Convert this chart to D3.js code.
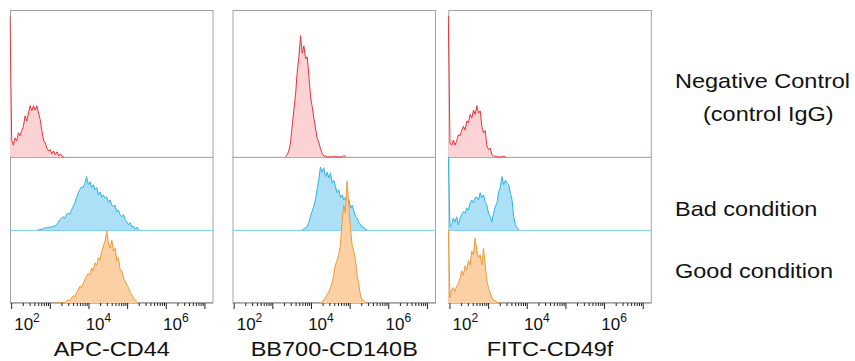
<!DOCTYPE html>
<html>
<head>
<meta charset="utf-8">
<script src="https://cdn.jsdelivr.net/npm/d3@7"></script>
<style>
  body { margin: 0; background: #fff; }
  text { font-family: "Liberation Sans", Arial, sans-serif; fill: #111; }
</style>
</head>
<body>
<div id="chart"></div>
<script>
// --- data ---
const markers = ['APC-CD44', 'BB700-CD140B', 'FITC-CD49f'];
const conditions = ['Negative Control', 'Bad condition', 'Good condition'];
const tickExponents = [2, 4, 6];
const binStep = 0.0434; // decades per histogram bin

// first bin (log10) for [negative, bad, good] of each marker
const apcStart = [1.97, 2.693, 3.128];
const apcNeg = [192, 23, 16, 26, 22, 33, 29, 36, 42, 56, 49, 60, 70, 63, 70, 64, 70, 60, 51, 36, 23, 19, 12, 8, 10, 4, 8, 3, 7, 1, 4, 1, 0];
const apcBad = [1, 0, 1, 1, 3, 3, 3, 4, 4, 5, 5, 7, 10, 14, 16, 18, 16, 21, 23, 21, 27, 32, 37, 44, 51, 55, 59, 58, 64, 73, 62, 66, 58, 62, 55, 58, 48, 52, 45, 48, 44, 45, 38, 41, 34, 32, 34, 25, 27, 21, 18, 21, 14, 11, 7, 10, 4, 5, 1, 4, 0];
const apcGood = [1, 0, 0, 1, 0, 0, 0, 3, 4, 3, 7, 10, 8, 14, 18, 23, 21, 27, 32, 37, 41, 38, 48, 44, 55, 51, 62, 58, 71, 78, 85, 99, 82, 75, 86, 71, 75, 58, 62, 45, 44, 34, 30, 25, 21, 14, 11, 7, 4, 1, 0];

const bbStart = [3.34, 3.767, 4.24];
const bbNeg = [0, 3, 8, 19, 42, 64, 85, 116, 137, 166, 142, 152, 134, 137, 110, 82, 68, 52, 38, 25, 19, 10, 4, 1, 1, 0, 0, 0, 0, 1, 0, 0, 0, 0, 0, 2, 0];
const bbBad = [0, 1, 3, 4, 10, 18, 25, 32, 41, 55, 68, 86, 79, 85, 73, 79, 71, 78, 64, 68, 59, 51, 55, 44, 48, 41, 45, 38, 41, 30, 34, 25, 18, 16, 10, 7, 4, 3, 1, 0];
const bbGood = [0, 1, 4, 7, 11, 14, 21, 27, 38, 52, 58, 66, 79, 110, 134, 123, 167, 134, 103, 79, 71, 58, 38, 25, 11, 4, 3, 1, 0];

const fitcStart = [1.97, 1.97, 1.97];
const fitcNeg = [193, 19, 16, 23, 16, 22, 30, 29, 36, 42, 37, 49, 47, 58, 53, 64, 58, 70, 60, 63, 42, 33, 36, 15, 10, 12, 3, 1, 1, 0, 0, 0, 0, 1, 0];
const fitcBad = [100, 4, 7, 16, 11, 18, 7, 16, 21, 25, 23, 30, 27, 37, 41, 37, 44, 45, 41, 51, 44, 48, 38, 34, 23, 18, 11, 23, 32, 37, 52, 58, 73, 62, 68, 64, 62, 51, 41, 18, 7, 3, 0];
const fitcGood = [100, 7, 18, 21, 16, 23, 27, 34, 44, 38, 51, 45, 58, 52, 71, 66, 89, 71, 62, 66, 52, 75, 52, 30, 21, 14, 7, 4, 3, 1, 0, 1, 0];

const panelData = [
  { title: markers[0], start: apcStart, series: [apcNeg, apcBad, apcGood] },
  { title: markers[1], start: bbStart, series: [bbNeg, bbBad, bbGood] },
  { title: markers[2], start: fitcStart, series: [fitcNeg, fitcBad, fitcGood] },
];

// --- layout ---
const width = 855, height = 361;
const plotTop = 10, plotBottom = 303;
const panelLeft = [10, 232.5, 448.3];
const panelW = 203.5;
const rowOffset = [200, 100, 0];
const strokes = ['#e5343d', '#2eb3e6', '#f09a36'];
const fills = ['#fcd3d4', '#ace0f6', '#fbd0a4'];
const baseStrokes = ['#e87a7f', '#7fcdf0', '#f2ae6a'];
const stretch = 1.12;

const svg = d3.select('#chart').append('svg').attr('width', width).attr('height', height);

const y = d3.scaleLinear().domain([0, 401]).range([plotBottom, plotTop]);

panelData.forEach((p, pi) => {
  const left = panelLeft[pi];
  const x = d3.scaleLog().domain([10 ** 1.97, 10 ** 7.235]).range([left, left + panelW]);
  const g = svg.append('g');

  g.append('rect').attr('x', left + 0.5).attr('y', plotTop + 0.5)
    .attr('width', panelW - 1).attr('height', plotBottom - plotTop - 1)
    .attr('fill', '#fff').attr('stroke', '#a3a3a3').attr('stroke-width', 1);

  const clipId = `clip${pi}`;
  svg.append('clipPath').attr('id', clipId).append('rect')
    .attr('x', left - 0.5).attr('y', plotTop).attr('width', panelW + 0.5).attr('height', plotBottom - plotTop + 1);
  const plot = g.append('g').attr('clip-path', `url(#${clipId})`);

  p.series.forEach((vals, si) => {
    const off = rowOffset[si];
    const xPos = (d, i) => x(10 ** (p.start[si] + i * binStep));
    plot.append('line').attr('x1', left).attr('x2', left + panelW)
      .attr('y1', y(off) + 0.5).attr('y2', y(off) + 0.5)
      .attr('stroke', baseStrokes[si]).attr('stroke-width', 1);
    plot.append('path').datum(vals)
      .attr('d', d3.area().x(xPos).y0(y(off)).y1(v => y(off + v)))
      .attr('fill', fills[si]);
    plot.append('path').datum(vals)
      .attr('d', d3.line().x(xPos).y(v => y(off + v)))
      .attr('fill', 'none').attr('stroke', strokes[si]).attr('stroke-width', 1);
  });

  // log axis ticks
  const majors = d3.range(2, 8).map(k => 10 ** k);
  const minors = [];
  d3.range(1, 8).forEach(k => d3.range(2, 10).forEach(m => {
    const v = m * 10 ** k;
    if (v > x.domain()[0] && v < x.domain()[1]) minors.push(v);
  }));
  const axMaj = g.append('g').attr('transform', `translate(0,${plotBottom})`)
    .call(d3.axisBottom(x).tickValues(majors).tickSize(6).tickFormat(''));
  const axMin = g.append('g').attr('transform', `translate(0,${plotBottom})`)
    .call(d3.axisBottom(x).tickValues(minors).tickSize(3).tickFormat(''));
  [axMaj, axMin].forEach(a => {
    a.select('.domain').remove();
    a.selectAll('line').attr('stroke', '#222');
  });

  tickExponents.forEach(k => {
    const cx = Math.max(x(10 ** k) + 10, left + 17);
    const t = g.append('text').attr('x', cx).attr('y', 330).attr('text-anchor', 'middle')
      .style('font-size', '17px');
    t.append('tspan').text('10');
    t.append('tspan').attr('dy', -8).style('font-size', '12px').text(k);
  });

  g.append('g').attr('transform', `translate(${left + panelW / 2},356) scale(${stretch},1)`)
    .append('text').attr('text-anchor', 'middle').style('font-size', '21px').text(p.title);
});

// condition labels on the right
const legend = [
  { text: conditions[0], x: 675, y: 88 },
  { text: '(control IgG)', x: 703, y: 121 },
  { text: conditions[1], x: 675, y: 216 },
  { text: conditions[2], x: 675, y: 278 },
];
legend.forEach(l => {
  svg.append('g').attr('transform', `translate(${l.x},${l.y}) scale(${stretch},1)`)
    .append('text').style('font-size', '21px').text(l.text);
});
</script>
</body>
</html>
